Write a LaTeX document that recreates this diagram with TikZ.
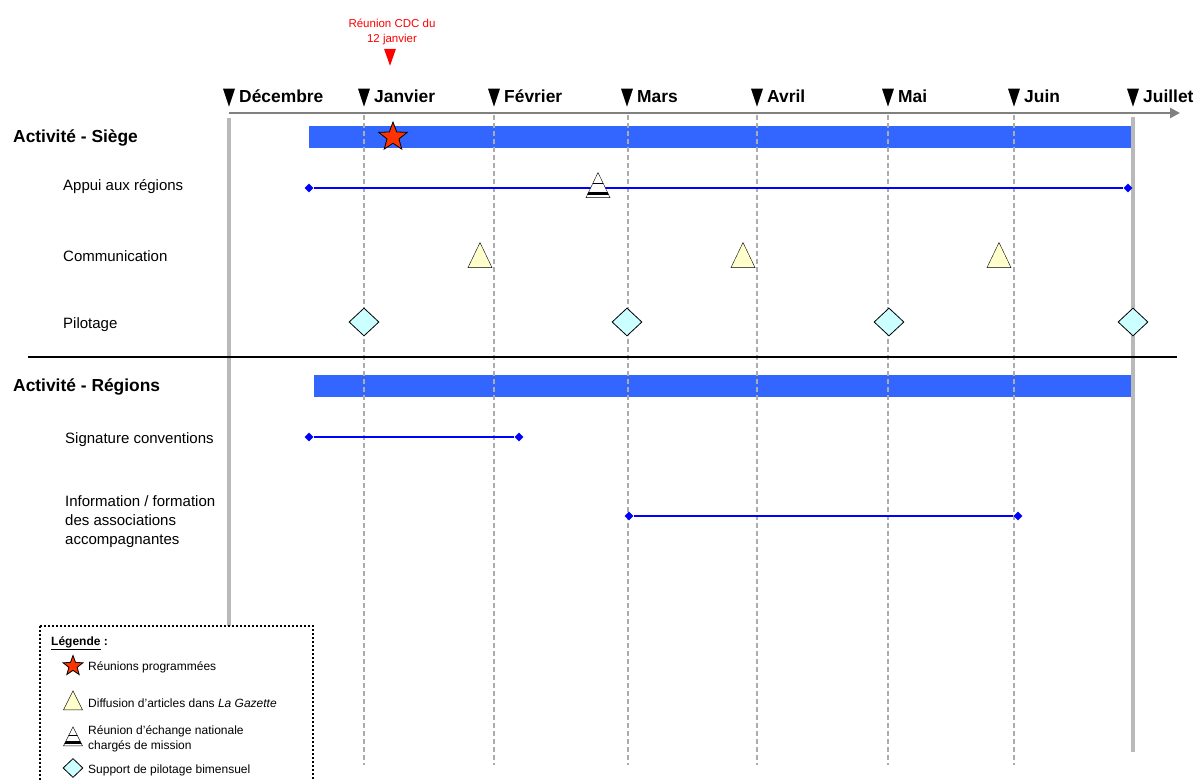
\documentclass[tikz,border=0pt]{standalone}
\usepackage{fontspec}
\setmainfont{Liberation Sans}
\usetikzlibrary{shapes.geometric,arrows.meta,calc,positioning}
\definecolor{barblue}{HTML}{3366FF}
\definecolor{gazette}{HTML}{FFFFCC}
\definecolor{pilot}{HTML}{CCFFFF}
\definecolor{starred}{HTML}{FF3300}
\tikzset{
  month/.style={isosceles triangle, isosceles triangle stretches, shape border rotate=-90, fill=black, inner sep=0, minimum width=12, minimum height=18},
  mlabel/.style={font=\fontsize{17.4}{20}\selectfont\bfseries, anchor=base west, inner sep=0},
  section/.style={font=\fontsize{17.4}{20}\selectfont\bfseries, anchor=west, inner sep=0},
  task/.style={font=\fontsize{15}{19}\selectfont, anchor=west, inner sep=0, align=left},
  legtext/.style={font=\fontsize{12}{15}\selectfont, anchor=west, inner sep=0, align=left},
  monthgrid/.style={gray!65, line width=1.5, dash pattern=on 5pt off 3pt},
  border/.style={gray!55, line width=4},
  bar/.style={fill=barblue},
  endpt/.style={diamond, fill=blue, inner sep=0, minimum size=9},
  spanline/.style={blue, line width=1.5},
  meeting/.style={star, star points=5, star point ratio=2.4, fill=starred, draw=black, thick, inner sep=0, minimum size=30},
  article/.style={isosceles triangle, isosceles triangle stretches, shape border rotate=90, fill=gazette, draw=black, inner sep=0, minimum width=24, minimum height=25},
  exchange/.style={article, fill=white, path picture={
      \draw[line width=1] ($(path picture bounding box.south west)!0.55!(path picture bounding box.north west)$) -- ($(path picture bounding box.south east)!0.55!(path picture bounding box.north east)$);
      \draw[line width=3] ($(path picture bounding box.south west)!0.17!(path picture bounding box.north west)$) -- ($(path picture bounding box.south east)!0.17!(path picture bounding box.north east)$);
    }},
  pilotage/.style={diamond, fill=pilot, draw=black, thick, inner sep=0, minimum width=30, minimum height=28},
  legendbox/.style={draw=black, line width=2.2, dash pattern=on 2pt off 2pt}
}

\begin{document}
\begin{tikzpicture}[x=1pt, y=-1pt]
	  \clip (0,0) rectangle (1197,781);

	  % Bars
	  \fill[bar] (309,126) rectangle (1132,148);
	  \fill[bar] (314,375) rectangle (1133,397);

	  % Month grid
	  \foreach \x in {364,494,628,757,888,1014} {
		\draw[monthgrid] (\x,115) -- (\x,765);
	  }
	  \draw[border] (229,118) -- (229,626);
	  \draw[border] (1133,117) -- (1133,752);

	  % Time axis
	  \coordinate (t0) at (229,113);
	  \coordinate (t1) at (1180,113);
	  \draw[gray, line width=2.5, -{Triangle[length=10pt,width=10pt]}] (t0) -- (t1);

	  \foreach \x/\n/\m in {229/dec/Décembre, 364/jan/Janvier, 494/feb/Février, 627/mar/Mars, 757/apr/Avril, 888/may/Mai, 1014/jun/Juin, 1133/jul/Juillet} {
		\node[month] (tri-\n) at (\x,93) {};
		\node[mlabel] (\n) at (\x+10,103) {\m};
	  }

	  % Meeting note
	  \node[month, fill=red, minimum height=17] (cdc) at (390,53) {};
	  \node[font=\fontsize{11.5}{15}\selectfont, text=red, align=center, inner sep=0] (cdc-text) at (392,32) {Réunion CDC du\\12 janvier};

	  % Activite - Siege
	  \node[section] (siege) at (13,138) {Activité - Siège};
	  \node[meeting] (star1) at (393,137) {};

	  \node[task] (appui) at (63,187) {Appui aux régions};
	  \node[endpt] (appui-a) at (309,188) {};
	  \node[endpt] (appui-b) at (1128,188) {};
	  \draw[spanline] (appui-a) -- (appui-b);
	  \node[exchange] (echange) at (598,190) {};

	  \node[task] (comm) at (63,256) {Communication};
	  \foreach \x [count=\i] in {480,743,999} {
		\node[article] (gaz-\i) at (\x,260) {};
	  }

	  \node[task] (pilot) at (63,325) {Pilotage};
	  \foreach \x [count=\i] in {364,627,889,1133} {
		\node[pilotage] (pil-\i) at (\x,322) {};
	  }

	  \coordinate (sep-a) at (28,357);
	  \coordinate (sep-b) at (1177,357);
	  \draw[line width=1.2] (sep-a) -- (sep-b);

	  % Activite - Regions
	  \node[section] (regions) at (13,387) {Activité - Régions};

	  \node[task] (sign) at (65,440) {Signature conventions};
	  \node[endpt] (sign-a) at (309,437) {};
	  \node[endpt] (sign-b) at (519,437) {};
	  \draw[spanline] (sign-a) -- (sign-b);

	  \node[task] (info) at (65,522) {Information / formation\\des associations\\accompagnantes};
	  \node[endpt] (info-a) at (629,516) {};
	  \node[endpt] (info-b) at (1018,516) {};
	  \draw[spanline] (info-a) -- (info-b);

	  % Legend
	  \draw[legendbox, fill=white] (40,626) rectangle (313,800);
	  \node[legtext, font=\fontsize{12}{15}\selectfont\bfseries] (leg) at (51,643) {\underline{Légende} :};
	  \node[meeting, minimum size=21] (leg-1) at (73,666) {};
	  \node[legtext] (leg-1t) at (88,667) {Réunions programmées};
	  \node[article, minimum width=19, minimum height=19] (leg-2) at (73,704) {};
	  \node[legtext] (leg-2t) at (88,703) {Diffusion d'articles dans \textit{La Gazette}};
	  \node[exchange, minimum width=19, minimum height=19] (leg-3) at (73,740) {};
	  \node[legtext] (leg-3t) at (88,739) {Réunion d'échange nationale\\chargés de mission};
	  \node[pilotage, minimum width=20, minimum height=19] (leg-4) at (73,768) {};
	  \node[legtext] (leg-4t) at (88,770) {Support de pilotage bimensuel};
\end{tikzpicture}
\end{document}
